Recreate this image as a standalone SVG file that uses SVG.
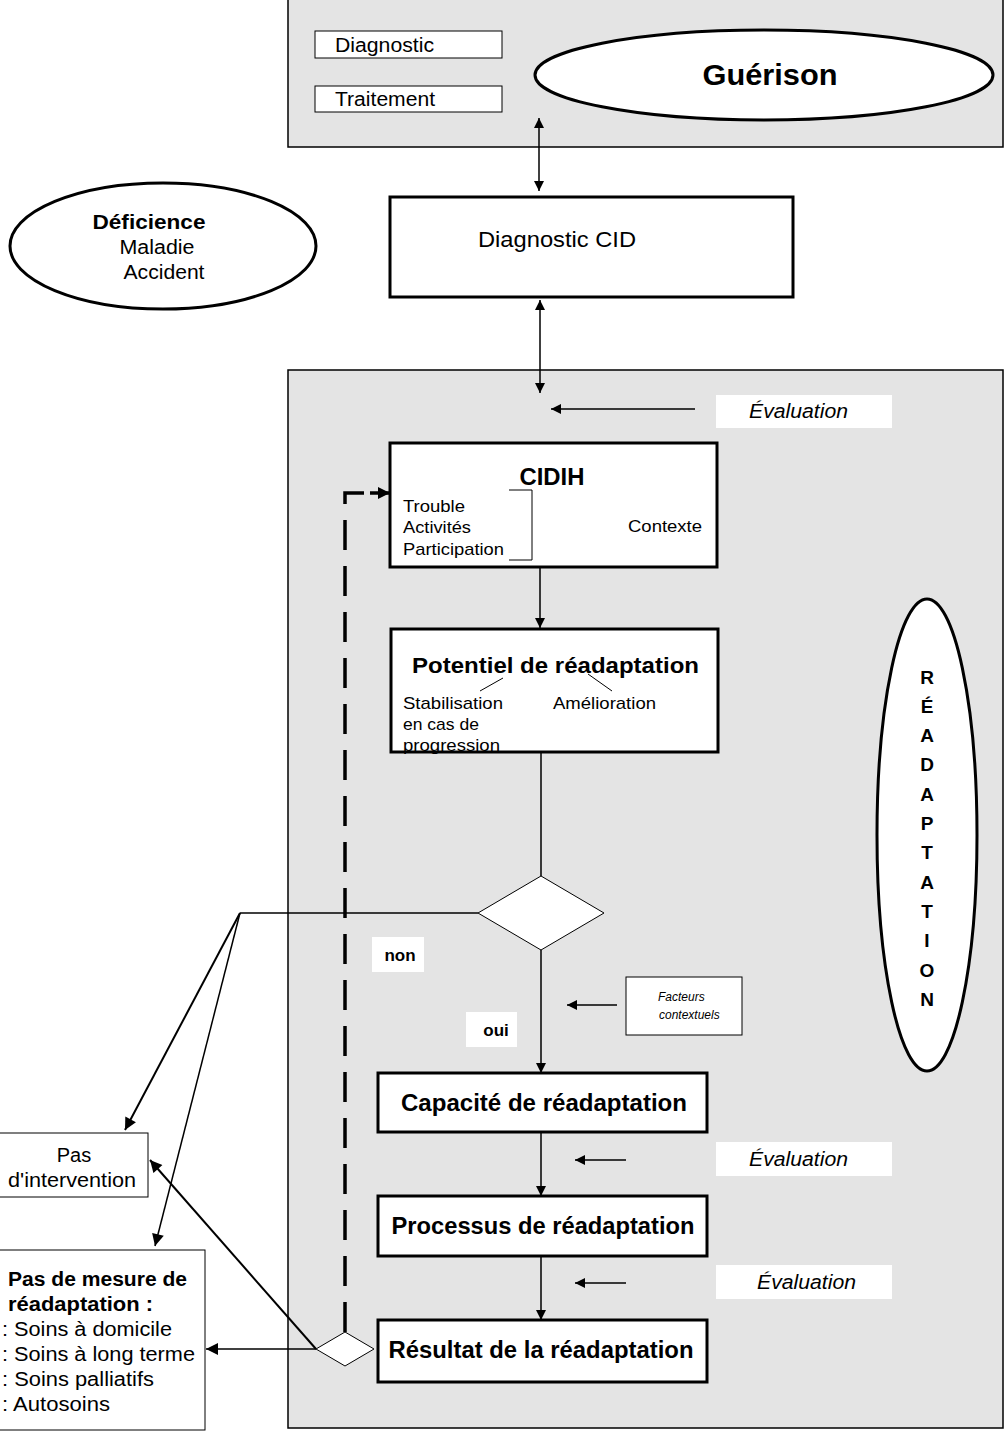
<svg xmlns="http://www.w3.org/2000/svg" width="1005" height="1432" viewBox="0 0 1005 1432">
<defs>
<marker id="ah" viewBox="0 0 10 10" refX="10" refY="5" markerWidth="10" markerHeight="10" markerUnits="userSpaceOnUse" orient="auto-start-reverse">
<path d="M0,0 L10,5 L0,10 z" fill="#000"/>
</marker>
<marker id="ahb" viewBox="0 0 10 10" refX="10" refY="5" markerWidth="14" markerHeight="12" markerUnits="userSpaceOnUse" orient="auto-start-reverse">
<path d="M0,0 L10,5 L0,10 z" fill="#000"/>
</marker>
</defs>
<style>
text{font-family:"Liberation Sans",Arial,sans-serif;fill:#000}
.panel{fill:#e4e4e4;stroke:#000;stroke-width:1.5}
.box{fill:#fff;stroke:#000;stroke-width:3}
.thin{fill:#fff;stroke:#000;stroke-width:1}
.lbl{fill:#fff;stroke:none}
.ell{fill:#fff;stroke:#000;stroke-width:3}
.ln{fill:none;stroke:#000;stroke-width:1.5}
.lnb{fill:none;stroke:#000;stroke-width:2}
.b{font-weight:bold}
.i{font-style:italic}
.c{text-anchor:middle}
</style>
<rect width="1005" height="1432" fill="#fff"/>
<g id="panel-top">
<rect class="panel" x="288" y="-2" width="715" height="149"/>
</g>
<g id="panel-bottom">
<rect class="panel" x="288" y="370" width="715" height="1058"/>
</g>
<g id="diagnostic">
<rect class="thin" x="315" y="31" width="187" height="27"/>
<text x="335" y="52" font-size="20" textLength="99" lengthAdjust="spacingAndGlyphs">Diagnostic</text>
</g>
<g id="traitement">
<rect class="thin" x="315" y="86" width="187" height="26"/>
<text x="335" y="106" font-size="20" textLength="100" lengthAdjust="spacingAndGlyphs">Traitement</text>
</g>
<g id="guerison">
<ellipse class="ell" cx="764" cy="75" rx="229" ry="45"/>
<text class="b c" x="770" y="85" font-size="29" textLength="135" lengthAdjust="spacingAndGlyphs">Guérison</text>
</g>
<g id="deficience">
<ellipse class="ell" cx="163" cy="246" rx="153" ry="63"/>
<text class="b c" x="149" y="229" font-size="20" textLength="113" lengthAdjust="spacingAndGlyphs">Déficience</text>
<text class="c" x="157" y="254" font-size="20" textLength="75" lengthAdjust="spacingAndGlyphs">Maladie</text>
<text class="c" x="164" y="279" font-size="20" textLength="81" lengthAdjust="spacingAndGlyphs">Accident</text>
</g>
<g id="diagnostic-cid">
<rect class="box" x="390" y="197" width="403" height="100"/>
<text x="478" y="247" font-size="22" textLength="158" lengthAdjust="spacingAndGlyphs">Diagnostic CID</text>
</g>
<g id="evaluation-1">
<rect class="lbl" x="716" y="395" width="176" height="33"/>
<text class="i" x="749" y="418" font-size="20" textLength="99" lengthAdjust="spacingAndGlyphs">Évaluation</text>
</g>
<g id="cidih">
<rect class="box" x="390" y="443" width="327" height="124"/>
<text class="b c" x="552" y="485" font-size="23" textLength="65" lengthAdjust="spacingAndGlyphs">CIDIH</text>
<text x="403" y="512" font-size="17" textLength="62" lengthAdjust="spacingAndGlyphs">Trouble</text>
<text x="403" y="533" font-size="17" textLength="68" lengthAdjust="spacingAndGlyphs">Activités</text>
<text x="403" y="555" font-size="17" textLength="101" lengthAdjust="spacingAndGlyphs">Participation</text>
<text x="628" y="532" font-size="17" textLength="74" lengthAdjust="spacingAndGlyphs">Contexte</text>
<path d="M509,490 H532 V560 H509" fill="none" stroke="#000" stroke-width="1"/>
</g>
<g id="potentiel">
<rect class="box" x="391" y="629" width="327" height="123"/>
<text class="b" x="412" y="673" font-size="22" textLength="287" lengthAdjust="spacingAndGlyphs">Potentiel de réadaptation</text>
<path d="M480,691 L503,678 M588,674 L612,691" fill="none" stroke="#000" stroke-width="1"/>
<text x="403" y="709" font-size="17" textLength="100" lengthAdjust="spacingAndGlyphs">Stabilisation</text>
<text x="403" y="730" font-size="17" textLength="76" lengthAdjust="spacingAndGlyphs">en cas de</text>
<text x="403" y="751" font-size="17" textLength="97" lengthAdjust="spacingAndGlyphs">progression</text>
<text x="553" y="709" font-size="17" textLength="103" lengthAdjust="spacingAndGlyphs">Amélioration</text>
</g>
<g id="readaptation">
<ellipse class="ell" cx="927" cy="835" rx="50" ry="236"/>
<g class="b c" font-size="19">
<text x="927" y="684">R</text>
<text x="927" y="713">É</text>
<text x="927" y="742">A</text>
<text x="927" y="771">D</text>
<text x="927" y="801">A</text>
<text x="927" y="830">P</text>
<text x="927" y="859">T</text>
<text x="927" y="889">A</text>
<text x="927" y="918">T</text>
<text x="927" y="947">I</text>
<text x="927" y="977">O</text>
<text x="927" y="1006">N</text>
</g>
</g>
<g id="decision">
<polygon points="541,876 604,913 541,950 478,913" fill="#fff" stroke="#000" stroke-width="1"/>
</g>
<g id="non-label">
<rect class="lbl" x="372" y="937" width="52" height="35"/>
<text class="b c" x="400" y="961" font-size="17">non</text>
</g>
<g id="oui-label">
<rect class="lbl" x="466" y="1012" width="51" height="35"/>
<text class="b c" x="496" y="1036" font-size="17">oui</text>
</g>
<g id="facteurs">
<rect class="thin" x="626" y="977" width="116" height="58"/>
<text class="i" x="658" y="1001" font-size="12">Facteurs</text>
<text class="i" x="659" y="1019" font-size="12">contextuels</text>
</g>
<g id="capacite">
<rect class="box" x="378" y="1073" width="329" height="59"/>
<text class="b c" x="544" y="1111" font-size="23" textLength="286" lengthAdjust="spacingAndGlyphs">Capacité de réadaptation</text>
</g>
<g id="evaluation-2">
<rect class="lbl" x="716" y="1142" width="176" height="34"/>
<text class="i" x="749" y="1166" font-size="20" textLength="99" lengthAdjust="spacingAndGlyphs">Évaluation</text>
</g>
<g id="processus">
<rect class="box" x="378" y="1196" width="329" height="60"/>
<text class="b c" x="543" y="1234" font-size="23" textLength="303" lengthAdjust="spacingAndGlyphs">Processus de réadaptation</text>
</g>
<g id="evaluation-3">
<rect class="lbl" x="716" y="1265" width="176" height="34"/>
<text class="i" x="757" y="1289" font-size="20" textLength="99" lengthAdjust="spacingAndGlyphs">Évaluation</text>
</g>
<g id="resultat">
<rect class="box" x="378" y="1320" width="329" height="62"/>
<text class="b c" x="541" y="1358" font-size="23" textLength="305" lengthAdjust="spacingAndGlyphs">Résultat de la réadaptation</text>
</g>
<g id="decision-2">
<polygon points="345,1332 374,1349 345,1366 316,1349" fill="#fff" stroke="#000" stroke-width="1"/>
</g>
<g id="pas-intervention">
<rect class="thin" x="-1" y="1133" width="149" height="64"/>
<text class="c" x="74" y="1162" font-size="20">Pas</text>
<text x="8" y="1187" font-size="20" textLength="128" lengthAdjust="spacingAndGlyphs">d'intervention</text>
</g>
<g id="pas-mesure">
<rect class="thin" x="-1" y="1250" width="206" height="180"/>
<text class="b" x="8" y="1286" font-size="20" textLength="179" lengthAdjust="spacingAndGlyphs">Pas de mesure de</text>
<text class="b" x="8" y="1311" font-size="20" textLength="145" lengthAdjust="spacingAndGlyphs">réadaptation :</text>
<text x="2" y="1336" font-size="20" textLength="170" lengthAdjust="spacingAndGlyphs">: Soins à domicile</text>
<text x="2" y="1361" font-size="20" textLength="193" lengthAdjust="spacingAndGlyphs">: Soins à long terme</text>
<text x="2" y="1386" font-size="20" textLength="152" lengthAdjust="spacingAndGlyphs">: Soins palliatifs</text>
<text x="2" y="1411" font-size="20" textLength="108" lengthAdjust="spacingAndGlyphs">: Autosoins</text>
</g>
<g id="connectors">
<line class="ln" x1="539" y1="118" x2="539" y2="191" marker-start="url(#ah)" marker-end="url(#ah)"/>
<line class="ln" x1="540" y1="300" x2="540" y2="393" marker-start="url(#ah)" marker-end="url(#ah)"/>
<line class="ln" x1="695" y1="409" x2="551" y2="409" marker-end="url(#ah)"/>
<line class="ln" x1="540" y1="567" x2="540" y2="628" marker-end="url(#ah)"/>
<line class="ln" x1="541" y1="752" x2="541" y2="876"/>
<line class="ln" x1="541" y1="950" x2="541" y2="1073" marker-end="url(#ah)"/>
<line class="ln" x1="617" y1="1005" x2="567" y2="1005" marker-end="url(#ah)"/>
<line class="ln" x1="478" y1="913" x2="240" y2="913"/>
<line class="lnb" x1="240" y1="913" x2="125" y2="1130" marker-end="url(#ahb)"/>
<line class="ln" x1="240" y1="913" x2="155" y2="1246" marker-end="url(#ahb)"/>
<line class="ln" x1="541" y1="1132" x2="541" y2="1196" marker-end="url(#ah)"/>
<line class="ln" x1="626" y1="1160" x2="575" y2="1160" marker-end="url(#ah)"/>
<line class="ln" x1="541" y1="1256" x2="541" y2="1320" marker-end="url(#ah)"/>
<line class="ln" x1="626" y1="1283" x2="575" y2="1283" marker-end="url(#ah)"/>
<line class="lnb" x1="316" y1="1349" x2="150" y2="1160" marker-end="url(#ahb)"/>
<line class="ln" x1="316" y1="1349" x2="206" y2="1349" marker-end="url(#ahb)"/>
<path d="M345,1332 V493 H376" fill="none" stroke="#000" stroke-width="3.5" stroke-dasharray="30,16"/>
<line x1="370" y1="493" x2="390" y2="493" stroke="#000" stroke-width="3.5" marker-end="url(#ahb)"/>
</g>
</svg>
